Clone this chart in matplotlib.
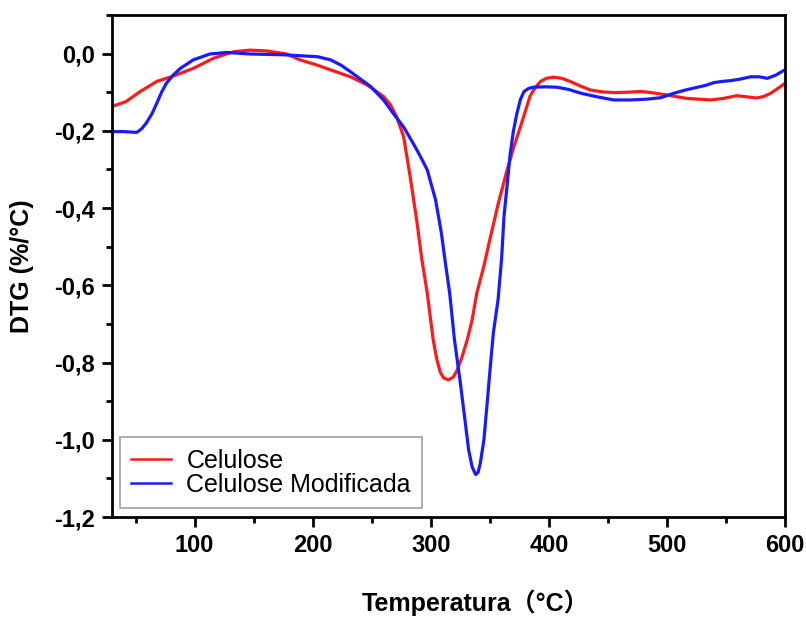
import matplotlib
matplotlib.use("Agg")
import matplotlib.pyplot as plt
from matplotlib.ticker import MultipleLocator, FuncFormatter

# Celulose (red)
cel_x = [30, 42, 54, 68, 82, 99, 116, 133, 147, 161, 178, 189, 203, 215, 232, 246,
         260, 266, 271, 277, 282.5, 288, 292.5, 297, 302, 305, 308, 311, 315, 319,
         322, 326, 331, 335, 339, 345, 350, 357, 364, 370, 376, 380, 384, 388, 393,
         398, 404, 411, 418, 426, 435, 445, 455, 466, 478, 489, 500, 509, 517, 527,
         537, 548, 559, 568, 576, 582, 588, 594, 600]
cel_y = [-0.137, -0.124, -0.098, -0.072, -0.058, -0.038, -0.012, 0.005, 0.009, 0.007,
         -0.001, -0.016, -0.029, -0.042, -0.060, -0.081, -0.111, -0.133, -0.163,
         -0.215, -0.318, -0.43, -0.534, -0.62, -0.74, -0.79, -0.825, -0.840, -0.845,
         -0.838, -0.822, -0.79, -0.740, -0.69, -0.62, -0.55, -0.482, -0.39, -0.309,
         -0.245, -0.189, -0.15, -0.111, -0.09, -0.072, -0.064, -0.061, -0.064, -0.072,
         -0.083, -0.094, -0.099, -0.101, -0.100, -0.098, -0.102, -0.107, -0.112,
         -0.116, -0.118, -0.120, -0.116, -0.109, -0.112, -0.115, -0.111, -0.1025,
         -0.09, -0.077]

# Celulose Modificada (blue)
mod_x = [30, 40, 51, 55, 59, 64, 68, 72, 76, 82, 88, 99, 113, 127, 147, 175, 204,
         215, 224, 232, 240, 249, 260, 268, 277, 285, 291, 297, 304, 309, 312, 316,
         320, 325, 329, 332, 335, 338, 340, 342, 345, 348, 351, 353, 355, 357, 360,
         362, 365, 367, 370, 373, 376, 379, 383, 387, 397, 407, 417, 427, 441, 455,
         469, 483, 495, 506, 516, 526, 533, 540, 547, 554, 562, 571, 578, 585, 592,
         600]
mod_y = [-0.202, -0.202, -0.204, -0.195, -0.180, -0.155, -0.128, -0.100, -0.077,
         -0.055, -0.038, -0.016, -0.001, 0.003, -0.001, -0.003, -0.008, -0.016,
         -0.030, -0.047, -0.065, -0.085, -0.120, -0.154, -0.190, -0.232, -0.265,
         -0.301, -0.378, -0.465, -0.534, -0.62, -0.74, -0.852, -0.95, -1.025, -1.07,
         -1.090, -1.085, -1.06, -1.00, -0.896, -0.79, -0.723, -0.68, -0.637, -0.53,
         -0.422, -0.33, -0.266, -0.20, -0.154, -0.118, -0.098, -0.090, -0.087,
         -0.086, -0.087, -0.093, -0.1025, -0.112, -0.120, -0.120, -0.118, -0.114,
         -0.1025, -0.094, -0.087, -0.082, -0.075, -0.072, -0.070, -0.066, -0.060,
         -0.060, -0.064, -0.056, -0.042]

x_ticks = [100, 200, 300, 400, 500, 600]
y_ticks = [0.0, -0.2, -0.4, -0.6, -0.8, -1.0, -1.2]

plt.rcParams['font.family'] = ['Liberation Sans', 'Noto Sans CJK SC', 'DejaVu Sans']

fig = plt.figure(figsize=(8.06, 6.17), dpi=100)
ax = fig.add_axes([112/806, 1 - 517/617, (785-112)/806, (517-15)/617])

ax.plot(cel_x, cel_y, color='#ff1a1a', lw=2.3, label='Celulose')
ax.plot(mod_x, mod_y, color='#1a1aff', lw=2.3, label='Celulose Modificada')

ax.set_xlim(30, 600)
ax.set_ylim(-1.2, 0.1)
ax.set_xticks(x_ticks)
ax.set_yticks(y_ticks)
ax.xaxis.set_minor_locator(MultipleLocator(50))
ax.yaxis.set_minor_locator(MultipleLocator(0.1))
ax.yaxis.set_major_formatter(FuncFormatter(lambda v, p: f"{v:.1f}".replace('.', ',').replace('-0,0', '0,0')))

ax.tick_params(axis='both', which='major', direction='out', length=7, width=2,
               labelsize=17, pad=5, top=False, right=False)
ax.tick_params(axis='both', which='minor', direction='out', length=4, width=2,
               top=False, right=False)
for lab in ax.get_xticklabels() + ax.get_yticklabels():
    lab.set_fontweight('bold')
for s in ax.spines.values():
    s.set_linewidth(2)

ax.set_xlabel('Temperatura（°C）', fontsize=18, fontweight='bold')
ax.xaxis.set_label_coords(0.54, -0.171)
ax.xaxis.label.set_va('center')
ax.set_ylabel('DTG (%/°C)', fontsize=18, fontweight='bold')
ax.yaxis.set_label_coords(-0.133, 0.5)
ax.yaxis.label.set_va('center')

leg = ax.legend(loc='lower left', bbox_to_anchor=(0.012, 0.018), fontsize=18,
                frameon=True, fancybox=False, edgecolor='#888888',
                handlelength=1.6, handletextpad=0.6, borderpad=0.45,
                labelspacing=0.0, borderaxespad=0)
leg.get_frame().set_linewidth(1.2)
for l in leg.get_lines():
    l.set_linewidth(1.8)

fig.savefig('out.png', dpi=100)
